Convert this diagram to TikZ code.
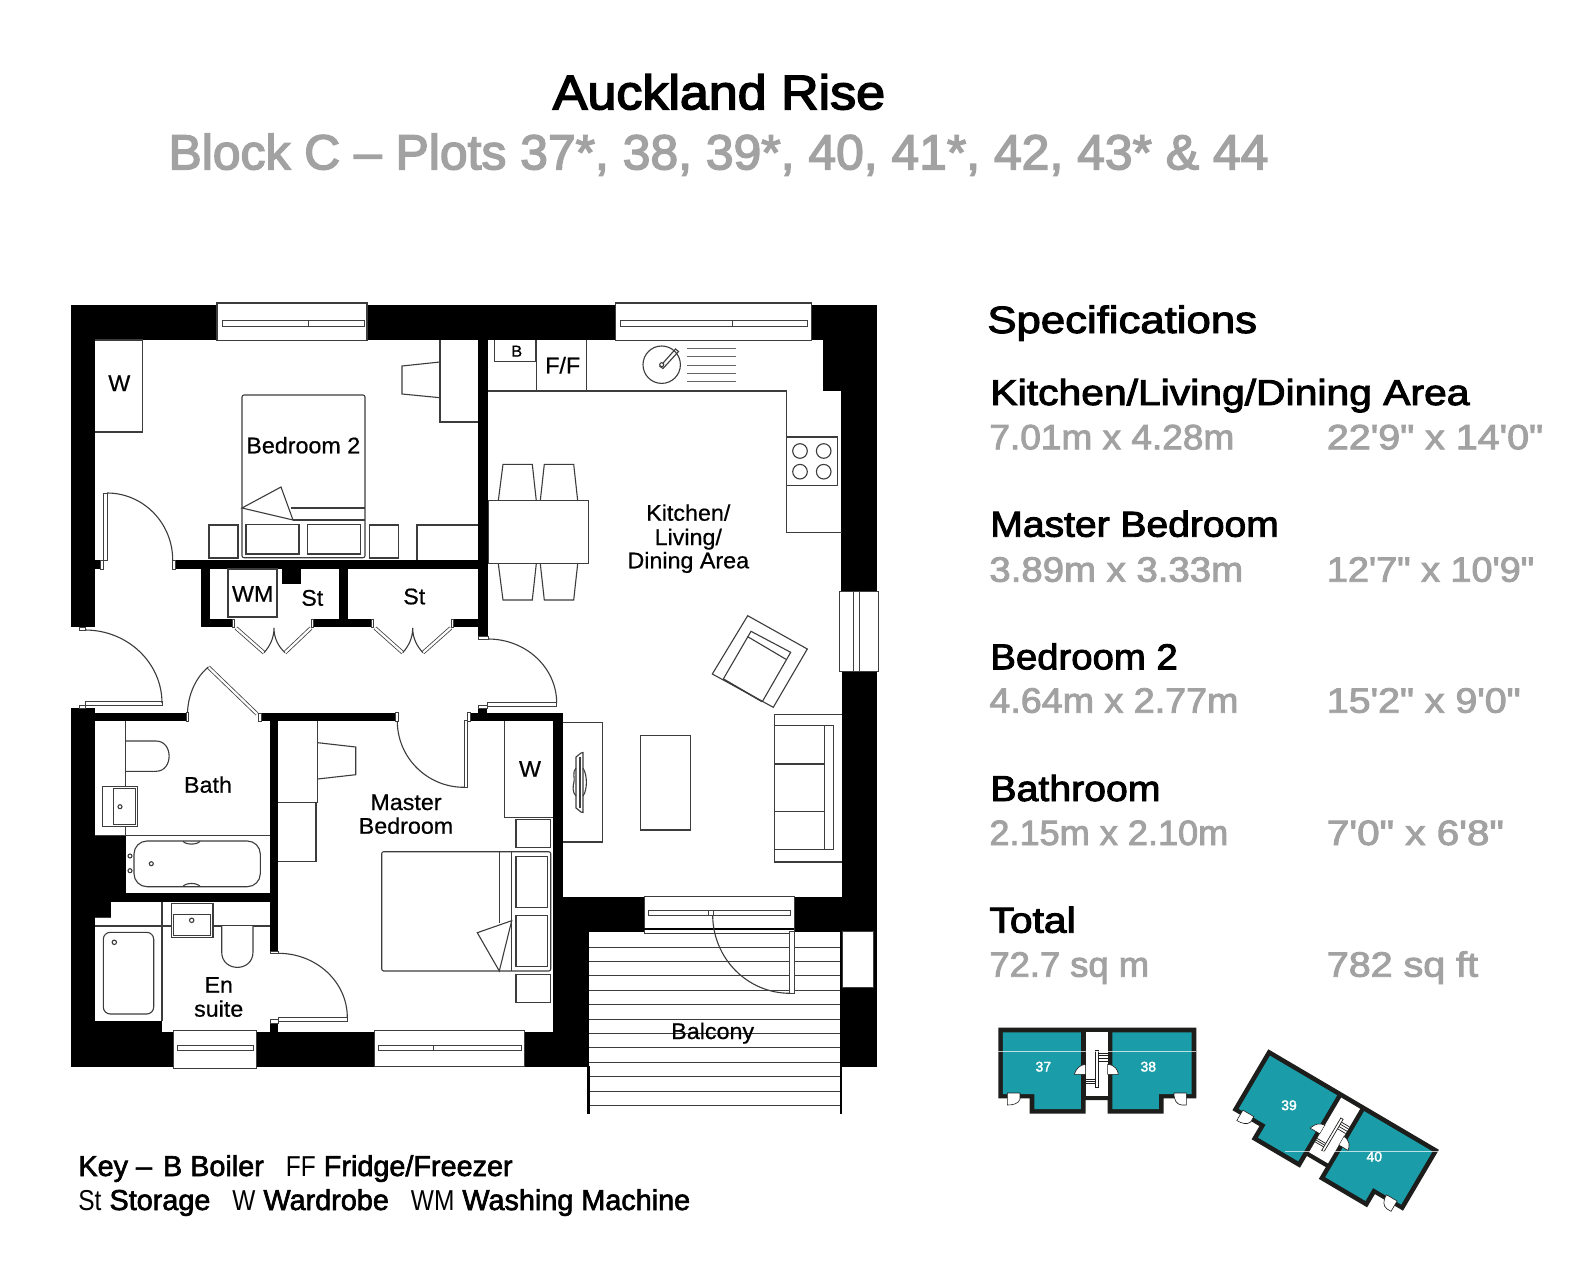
\documentclass[tikz,border=0pt]{standalone}
\usepackage{graphicx}
\usepackage{fontspec}
\setmainfont{Liberation Sans}
\newfontfamily\plainf[FakeBold=0.6,FakeStretch=1.03]{Liberation Sans}
\newfontfamily\headf[FakeBold=2.5]{Liberation Sans}
\newfontfamily\titlef[FakeBold=3]{Liberation Sans}
\newfontfamily\keyb[FakeBold=2.2,FakeStretch=1.0]{Liberation Sans}
\newfontfamily\keyl[FakeStretch=0.85]{Liberation Sans}
\newfontfamily\numf[FakeBold=2]{Liberation Sans}
\newcommand{\sx}[2]{\scalebox{#1}[1]{#2}}
\definecolor{grayt}{HTML}{A2A2A2}
\definecolor{teal2}{HTML}{1A9DA8}
\definecolor{dark2}{HTML}{1D1D1B}
\definecolor{lin}{HTML}{3C3C3C}
\tikzset{
  furn/.style={draw=lin,line width=0.55pt,line join=miter},
  furnw/.style={furn,fill=white},
  thinw/.style={draw=black!75,line width=0.45pt,fill=white},
  wall/.style={fill=black,draw=none},
  plabel/.style={inner sep=0pt,anchor=base,font=\plainf\fontsize{11.3pt}{11.3pt}\selectfont,align=center},
  titleb/.style={inner sep=0pt,anchor=base,font=\titlef\fontsize{24.3pt}{24.3pt}\selectfont},
  titleg/.style={inner sep=0pt,anchor=base,text=grayt,font=\titlef\fontsize{24.6pt}{24.6pt}\selectfont},
  spechead/.style={inner sep=0pt,anchor=base west,font=\headf\fontsize{18pt}{18pt}\selectfont},
  specdim/.style={inner sep=0pt,anchor=base west,text=grayt,font=\headf\fontsize{17.6pt}{17.6pt}\selectfont},
  keytext/.style={inner sep=0pt,anchor=base west,font=\fontsize{14.4pt}{14.4pt}\selectfont},
  plotnum/.style={inner sep=0pt,text=white,font=\numf\fontsize{7pt}{7pt}\selectfont},
}
\newcommand{\WR}[4]{\fill[wall] (#1,#2) rectangle (#3,#4);}
\newcommand{\FR}[4]{\draw[furnw] (#1,#2) rectangle (#3,#4);}
\newcommand{\TR}[4]{\draw[thinw] (#1,#2) rectangle (#3,#4);}
\newcommand{\arcH}[4]{\pgfmathsetmacro{\ca}{#1+0.552*(#3-#1)}\pgfmathsetmacro{\cb}{#4-0.552*(#4-#2)}\draw[furn] (#1,#2) .. controls (\ca,#2) and (#3,\cb) .. (#3,#4);}
\newcommand{\arcV}[4]{\pgfmathsetmacro{\ca}{#2+0.552*(#4-#2)}\pgfmathsetmacro{\cb}{#3-0.552*(#3-#1)}\draw[furn] (#1,#2) .. controls (#1,\ca) and (\cb,#4) .. (#3,#4);}
\newcommand{\leaf}[4]{\draw[black!75,line width=1.9pt] (#1,#2) -- (#3,#4);\draw[white,line width=1.1pt] (#1,#2) -- (#3,#4);}
\newcommand{\keyplan}{%
  \fill[dark2] (0,0)--(594,0)--(594,212)--(496,212)--(496,258)--(328,258)--(328,217)--(262,217)--(262,258)--(94,258)--(94,212)--(0,212)--cycle;
  \fill[teal2] (14,14)--(248,14)--(248,244)--(108,244)--(108,199)--(14,199)--cycle;
  \fill[teal2] (342,14)--(580,14)--(580,199)--(482,199)--(482,244)--(342,244)--cycle;
  \fill[white] (262,14) rectangle (328,204);
  \filldraw[fill=white,draw=dark2,line width=0.3pt] (27,196)--(65,196)--(65,215) .. controls (60,228) and (45,232) .. (27,232)--cycle;
  \filldraw[fill=white,draw=dark2,line width=0.3pt] (527,196)--(564,196)--(564,232)--(550,232) .. controls (535,230) and (527,218) .. (527,196)--cycle;
  \filldraw[fill=white,draw=dark2,line width=0.3pt] (228,140) .. controls (235,120) and (245,112) .. (262,110)--(262,140)--cycle;
  \filldraw[fill=white,draw=dark2,line width=0.3pt] (328,110) .. controls (350,112) and (358,125) .. (360,140)--(328,140)--cycle;
  \fill[white] (263,111) rectangle (327,139);
  \foreach \yy in {77,84,92,100}{\draw[dark2,line width=0.35pt] (300,\yy)--(328,\yy);}
  \foreach \yy in {156,162,168}{\draw[dark2,line width=0.35pt] (262,\yy)--(292,\yy);}
  \draw[dark2,fill=white,line width=0.35pt] (292,67) rectangle (300,180);
}
\begin{document}
\begin{tikzpicture}[x=0.5pt,y=-0.5pt]
\useasboundingbox (0,0) rectangle (1587,1284);
\fill[white] (0,0) rectangle (1587,1284);
% titles
\node[titleb] (title) at (719,109.3) {\sx{1.07}{Auckland Rise}};
\node[titleg] (subtitle) at (718.5,169.3) {\sx{1.013}{Block C – Plots 37*, 38, 39*, 40, 41*, 42, 43* \& 44}};
% specifications
\node[spechead,font=\headf\fontsize{19pt}{19pt}\selectfont] (spec) at (987,333) {\sx{1.15}{Specifications}};
\node[spechead] (h1) at (990,405) {\sx{1.135}{Kitchen/Living/Dining Area}};
\node[specdim] (d1a) at (989,449.3) {\sx{1.052}{7.01m x 4.28m}};
\node[specdim] (d1b) at (1326.5,449.3) {\sx{1.12}{22'9" x 14'0"}};
\node[spechead] (h2) at (990,536.7) {\sx{1.084}{Master Bedroom}};
\node[specdim] (d2a) at (989,581.7) {\sx{1.09}{3.89m x 3.33m}};
\node[specdim] (d2b) at (1326.5,581.7) {\sx{1.074}{12'7" x 10'9"}};
\node[spechead] (h3) at (990,669.3) {\sx{1.064}{Bedroom 2}};
\node[specdim] (d3a) at (989,712.7) {\sx{1.07}{4.64m x 2.77m}};
\node[specdim] (d3b) at (1326.5,712.7) {\sx{1.117}{15'2" x 9'0"}};
\node[spechead] (h4) at (990,801) {\sx{1.09}{Bathroom}};
\node[specdim] (d4a) at (989,845) {\sx{1.026}{2.15m x 2.10m}};
\node[specdim] (d4b) at (1326.5,845) {\sx{1.15}{7'0" x 6'8"}};
\node[spechead] (h5) at (989,932.7) {\sx{1.135}{Total}};
\node[specdim] (d5a) at (989,976.7) {\sx{1.033}{72.7 sq m}};
\node[specdim] (d5b) at (1326.5,976.7) {\sx{1.12}{782 sq ft}};
% key
\node[keytext] (key1) at (78,1176) {\keyb Key –\hspace{1.5pt} B Boiler\hspace{7pt} {\keyl FF} Fridge/Freezer};
\node[keytext] (key2) at (78,1210) {{\keyl St} \keyb Storage\hspace{7pt} {\keyl W} Wardrobe\hspace{7pt} {\keyl WM} Washing Machine};
% balcony
\foreach \yy in {947.3,961.7,975.7,990.3,1004.7,1019,1033.3,1047.3,1062,1076.3,1091,1105.7}{\draw[furn,line width=0.5pt] (589,\yy)--(841,\yy);}
\WR{587}{1066}{589.5}{1114}
\WR{840}{931}{842}{1114}
% walls
\WR{70.5}{305}{217}{340}
\WR{367}{305}{615.7}{340}
\WR{811}{305}{876.7}{340}
\WR{70.5}{305}{95}{627}
\WR{95}{560}{100.7}{569}
\WR{478}{340}{488}{638}
\WR{175}{560}{478}{569}
\WR{201}{569}{209.7}{627}
\WR{201}{619}{234}{627}
\WR{313}{619}{373}{627}
\WR{452.7}{619}{478}{627}
\WR{339}{569}{348}{619}
\WR{281.7}{569}{300.7}{584}
\WR{841.3}{305}{876.7}{591.3}
\WR{823.3}{340}{841.3}{390.7}
\WR{841.7}{671}{876.7}{1066.7}
\WR{70.5}{708}{95}{1066.7}
\WR{95}{1032}{173.3}{1066.7}
\WR{95}{1020.7}{162}{1032}
\WR{256.7}{1032}{374.3}{1066.7}
\WR{524.3}{1032}{589}{1066.7}
\WR{95}{835.7}{125.7}{901.7}
\WR{95}{901.7}{111}{917.7}
\WR{125.7}{893.3}{270}{901.7}
\WR{270}{712.7}{278.3}{953}
\WR{95}{712.7}{186.7}{721.3}
\WR{261.7}{712.7}{395.7}{721.3}
\WR{470}{712.7}{562.7}{721.3}
\WR{552.7}{712.7}{562.7}{897.3}
\WR{552.7}{897.3}{644.3}{931.7}
\WR{552.7}{931}{589}{1066.7}
\WR{794}{897.3}{876.7}{931.7}
\WR{270}{1023}{278.3}{1032}
\WR{478.3}{708}{487.3}{713}
\FR{842.3}{931.7}{873.3}{987.3}
% windows
\FR{217}{303}{367}{340.7}\TR{222}{320.7}{308}{326}\TR{308}{320.7}{364}{326}
\FR{615.7}{303}{811.7}{340.7}\TR{620}{320.7}{732.3}{326}\TR{732.3}{320.7}{807}{326}
\FR{374.3}{1030.7}{524.3}{1066.7}\TR{378}{1045}{433.3}{1050}\TR{433.3}{1045}{521}{1050}
\FR{173.3}{1030.7}{256.7}{1068.7}\TR{177}{1045}{253}{1050}
\FR{839.3}{591.3}{878.3}{671.3}\TR{853.3}{591.3}{859.3}{671.3}
\FR{644.3}{896.7}{794.3}{933.3}\TR{648}{910}{708.3}{915.7}\TR{713.7}{910}{790}{915.7}\TR{708.3}{910}{713.7}{915.7}
\draw[black,line width=1pt] (644.3,928.5)--(794.3,928.5);
% doors
\TR{103}{493}{107}{560}\TR{100.7}{560}{103}{569}\TR{172}{560}{175}{569}\arcH{107}{493}{172.7}{560}
\TR{85}{701}{162}{705}\TR{79}{705}{85}{708}\TR{79}{627}{85}{630}\arcH{85}{630}{162}{703}
\TR{487.3}{702.7}{556.7}{706}\TR{478.3}{705.3}{487.3}{708}\TR{478.3}{636}{488}{639}\arcH{488}{639}{556.7}{703}
\TR{464}{720.7}{467.3}{787.3}\TR{467.3}{712.7}{470}{721}\TR{395.7}{712.7}{398}{721}\arcV{397.3}{721}{464}{787.3}
\TR{278.3}{1017.3}{347.3}{1021}\TR{270}{1019}{278.3}{1023}\TR{270}{951}{278.3}{953.3}\arcH{278.3}{953.3}{347.3}{1017.3}
\TR{789.7}{931}{794.3}{993.3}\arcV{712.7}{915}{790}{993.3}
\leaf{208.3}{667}{257}{714}
\TR{186.7}{712.7}{188.5}{721.3}\TR{258.5}{713}{261.7}{721.3}
\draw[furn] (208.3,667) .. controls (195,678) and (188,696) .. (187.5,712.7);
% bifold doors
\leaf{236}{628}{264}{652.7}\leaf{311}{628}{285}{652.7}
\draw[furn] (264,652.7) .. controls (270,646) and (274,638) .. (274,628) .. controls (274,638) and (278,646) .. (285,652.7);
\leaf{375}{628}{402.7}{652.7}\leaf{450.7}{628}{423}{652.7}
\draw[furn] (402.7,652.7) .. controls (408.7,646) and (412.7,638) .. (412.7,628) .. controls (412.7,638) and (416.7,646) .. (423,652.7);
\TR{232.5}{619}{234.5}{627}\TR{311.5}{619}{313.5}{627}\TR{371.5}{619}{373.5}{627}\TR{451.5}{619}{453.5}{627}
% bedroom 2 furniture
\draw[furn] (95,340)--(142.7,340)--(142.7,432)--(95,432);
\draw[furn] (478,422)--(440,422)--(440,340);
\draw[furn] (440,362)--(402,366)--(402,394)--(440,397.7);
\draw[furn,rounded corners=1pt] (242,395) rectangle (365,557.7);
\draw[furn] (242,508)--(281,487)--(293,520)--cycle;
\draw[furn] (291,508)--(365,508) (293,520)--(365,520);
\draw[furn] (246,524.7) rectangle (299,554);
\draw[furn] (307.7,524.7) rectangle (360.7,554);
\draw[furn] (209,525) rectangle (238,558);
\draw[furn] (369.7,525) rectangle (398.7,558);
\draw[furn] (417,560)--(417,525)--(478,525);
\draw[furn] (228,569) rectangle (277,617);
% kitchen furniture
\draw[furn] (488,391)--(786.7,391)--(786.7,532.3)--(841.7,532.3);
\draw[furn] (494.3,340)--(494.3,361.7)--(535.7,361.7)--(535.7,340);
\draw[furn] (536.7,340)--(536.7,391) (586.3,340)--(586.3,391);
\draw[furnw] (786.7,437) rectangle (837.3,485.3);
\foreach \cx/\cy in {800/451,823.7/451,800/471.7,823.7/471.7}{\draw[furn] (\cx,\cy) circle [radius=7.3];}
\draw[furn] (661.7,364.7) circle [radius=18.7];
\draw[furn] (660,366.5)--(675.5,349)--(678.5,351.5)--(663,368.5)--cycle;
\draw[furnw] (661.7,364.7) circle [radius=2];
\foreach \yy in {348.7,356.7,365,373,381}{\draw[black!60,line width=0.5pt] (687.3,\yy)--(736,\yy);}
\draw[furn] (488.7,500.7) rectangle (588.3,563.7);
\draw[furn] (498.3,500.7)--(503,464.3)--(532.3,464.3)--(536.3,500.7);
\draw[furn] (540.3,500.7)--(544.3,464.3)--(573.7,464.3)--(577.7,500.7);
\draw[furn] (498.3,563.7)--(503,600)--(532.3,600)--(536.3,563.7);
\draw[furn] (540.3,563.7)--(544.3,600)--(573.7,600)--(577.7,563.7);
\draw[furn] (747.7,615.7)--(807.3,649)--(773.3,707.3)--(712.3,674)--cycle;
\draw[furn] (723.3,679)--(751,631.3)--(790.7,652.3)--(762.3,701.7);
\draw[furn,line width=0.75pt] (723.3,679)--(762.3,701.7);
\draw[furn] (747.7,636.7)--(786,659.3);
% living room furniture
\draw[furn] (562.7,722.3)--(602.7,722.3)--(602.7,842)--(562.7,842);
\draw[furn] (576,757)--(581,753)--(583,752.5)--(583,812.5)--(581,812)--(576,808)--cycle;
\draw[furn] (580,757)--(580,808);
\draw[furn] (583,768) .. controls (587.5,775) and (587.5,790) .. (583,796);
\draw[furn] (576,768) .. controls (572,772) and (575,778) .. (574,782) .. controls (573,786) and (572,792) .. (576,796);
\draw[furn] (640.7,735.3) rectangle (690.7,830);
\draw[furn] (841.7,714.3)--(774.7,714.3)--(774.7,862)--(841.7,862);
\draw[furn] (774.7,725.3)--(833.3,725.3)--(833.3,849.3)--(774.7,849.3);
\draw[furn] (824.3,725.3)--(824.3,849.3) (774.7,764)--(824.3,764) (774.7,811.3)--(824.3,811.3);
% bathroom
\draw[furn] (125.7,721)--(125.7,835.7);
\draw[furn] (95,835.7)--(270,835.7);
\draw[furn] (125.7,741)--(156,741) .. controls (173.5,741) and (173.5,771.3) .. (156,771.3)--(125.7,771.3);
\draw[furnw] (102.3,786.3) rectangle (137.7,826.3);
\draw[furn] (113.7,788.7) rectangle (135.3,824.3);
\draw[furn] (120,806.7) circle [radius=2];
\draw[furn,rounded corners=6.5pt] (134,841) rectangle (260.3,886.7);
\draw[furn] (183,841.3) .. controls (186,845) and (197,845) .. (200,841.3);
\draw[furn] (183,886.4) .. controls (186,882.5) and (197,882.5) .. (200,886.4);
\foreach \cx/\cy in {130/856,130/870.7,151.3/863.7}{\draw[furn] (\cx,\cy) circle [radius=2];}
% en suite
\draw[furn] (95,926)--(270,926);
\draw[furn] (95,917.7)--(111,917.7);
\draw[furn] (162,901.7)--(162,1020.7);
\draw[furn,rounded corners=3.5pt] (103.3,932.3) rectangle (153.7,1014);
\draw[furn] (114.3,942.3) circle [radius=2.2];
\draw[furnw] (171.3,903.7) rectangle (213,937.7);
\draw[furn] (173.3,914.3) rectangle (210.7,935.3);
\draw[furn] (191.7,920.3) circle [radius=2.2];
\draw[furnw] (221.7,926)--(221.7,952) .. controls (221.7,972.5) and (253,972.5) .. (253,952)--(253,926);
% master bedroom
\draw[furn] (317.7,721)--(317.7,802.7)--(278.3,802.7);
\draw[furn] (316,802.7)--(316,861.7)--(278.3,861.7);
\draw[furn] (317.7,742.7)--(355.7,747)--(355.7,774.7)--(317.7,779);
\draw[furn] (504.7,721)--(504.7,817.3)--(552.7,817.3);
\draw[furn] (516,819.7) rectangle (550.7,847.3);
\draw[furn] (516,974.3) rectangle (550.7,1002.3);
\draw[furn,rounded corners=1pt] (381.7,851.7) rectangle (550.7,971);
\draw[furn] (516,856.7) rectangle (547.3,907.3);
\draw[furn] (516,915.7) rectangle (547.3,966.7);
\draw[furn] (499.3,851.7)--(499.3,923) (511.7,851.7)--(511.7,971);
\draw[furnw] (511.7,920.7)--(477.3,932.7)--(499.3,971)--cycle;
% room labels
\node[plabel] (l1) at (303.3,453.3) {Bedroom 2};
\node[plabel] (l2) at (119.3,391) {W};
\node[plabel] (l3) at (252.7,601.7) {WM};
\node[plabel] (l4) at (312.3,605.7) {St};
\node[plabel] (l5) at (414.3,604.3) {St};
\node[plabel,font=\plainf\fontsize{8pt}{8pt}\selectfont] (l6) at (516.7,356.7) {B};
\node[plabel] (l7) at (562.7,373.3) {F/F};
\node[plabel] (l8) at (688.3,520.7) {Kitchen/};
\node[plabel] (l9) at (688.3,545) {Living/};
\node[plabel] (l10) at (688.3,568.3) {Dining Area};
\node[plabel] (l11) at (208,792.7) {Bath};
\node[plabel] (l12) at (406,810) {Master};
\node[plabel] (l13) at (406,833.7) {Bedroom};
\node[plabel] (l14) at (218.7,992.7) {En};
\node[plabel] (l15) at (218.7,1016.7) {suite};
\node[plabel] (l16) at (530,776.7) {W};
\node[plabel] (l17) at (712.7,1039) {Balcony};
% key plans
\begin{scope}[shift={(998.3,1027.7)},scale=1/3]
\keyplan
\draw[white,opacity=0.7,line width=0.4pt] (0,71)--(594,71);
\end{scope}
\begin{scope}[shift={(1268.3,1049.3)},rotate=-30.5,scale=1/3]
\keyplan
\end{scope}
\draw[white,opacity=0.7,line width=0.4pt] (1285,1151)--(1438,1151);
\node[plotnum] (p37) at (1043.3,1066.7) {37};
\node[plotnum] (p38) at (1148.3,1066.7) {38};
\node[plotnum] (p39) at (1289,1105.3) {39};
\node[plotnum] (p40) at (1374.3,1156.7) {40};
\end{tikzpicture}
\end{document}
